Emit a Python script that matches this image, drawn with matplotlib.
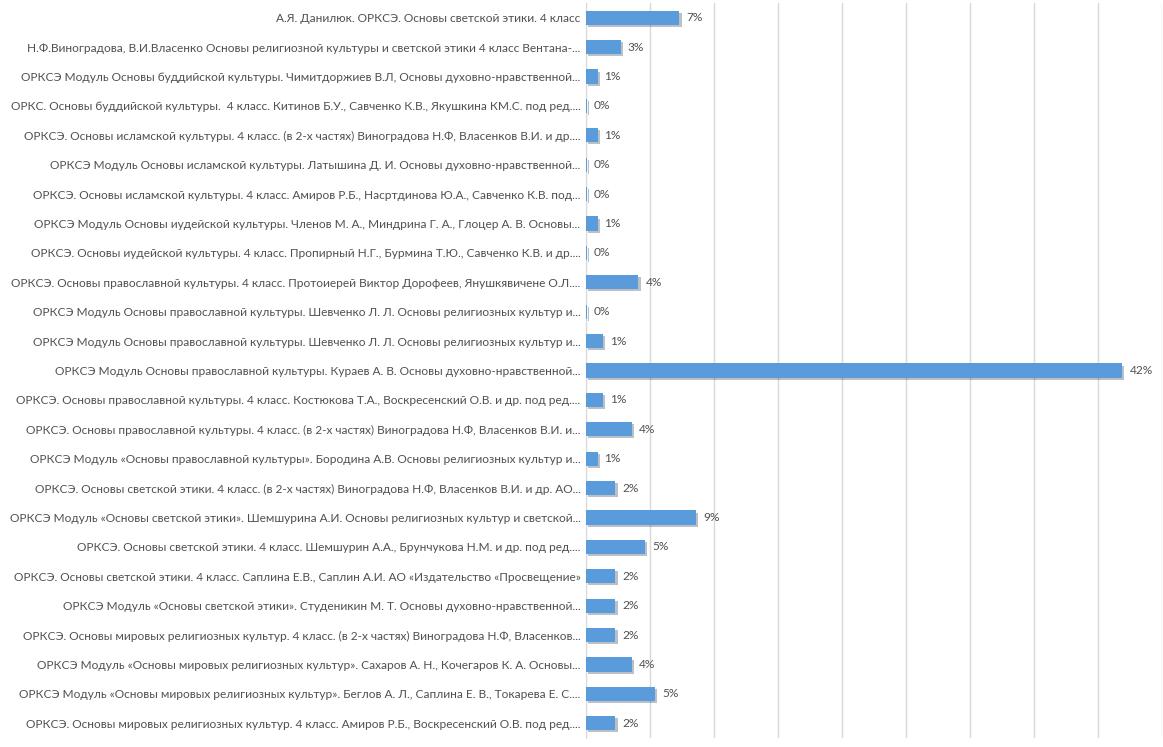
import matplotlib.pyplot as plt
import matplotlib.patheffects as pe
from matplotlib.ticker import MultipleLocator

# Textbooks, top to bottom as shown
labels = [
    "А.Я. Данилюк. ОРКСЭ. Основы светской этики. 4 класс",
    "Н.Ф.Виноградова, В.И.Власенко Основы религиозной культуры и светской этики 4 класс Вентана-...",
    "ОРКСЭ Модуль Основы буддийской культуры. Чимитдоржиев В.Л, Основы духовно-нравственной...",
    "ОРКС. Основы буддийской культуры.  4 класс. Китинов Б.У., Савченко К.В., Якушкина КМ.С. под ред....",
    "ОРКСЭ. Основы исламской культуры. 4 класс. (в 2-х частях) Виноградова Н.Ф, Власенков В.И. и др....",
    "ОРКСЭ Модуль Основы исламской культуры. Латышина Д. И. Основы духовно-нравственной...",
    "ОРКСЭ. Основы исламской культуры. 4 класс. Амиров Р.Б., Насртдинова Ю.А., Савченко К.В. под...",
    "ОРКСЭ Модуль Основы иудейской культуры. Членов М. А., Миндрина Г. А., Глоцер А. В. Основы...",
    "ОРКСЭ. Основы иудейской культуры. 4 класс. Пропирный Н.Г., Бурмина Т.Ю., Савченко К.В. и др....",
    "ОРКСЭ. Основы православной культуры. 4 класс. Протоиерей Виктор Дорофеев, Янушкявичене О.Л....",
    "ОРКСЭ Модуль Основы православной культуры. Шевченко Л. Л. Основы религиозных культур и...",
    "ОРКСЭ Модуль Основы православной культуры. Шевченко Л. Л. Основы религиозных культур и...",
    "ОРКСЭ Модуль Основы православной культуры. Кураев А. В. Основы духовно-нравственной...",
    "ОРКСЭ. Основы православной культуры. 4 класс. Костюкова Т.А., Воскресенский О.В. и др. под ред....",
    "ОРКСЭ. Основы православной культуры. 4 класс. (в 2-х частях) Виноградова Н.Ф, Власенков В.И. и...",
    "ОРКСЭ Модуль «Основы православной культуры». Бородина А.В. Основы религиозных культур и...",
    "ОРКСЭ. Основы светской этики. 4 класс. (в 2-х частях) Виноградова Н.Ф, Власенков В.И. и др. АО...",
    "ОРКСЭ Модуль «Основы светской этики». Шемшурина А.И. Основы религиозных культур и светской...",
    "ОРКСЭ. Основы светской этики. 4 класс. Шемшурин А.А., Брунчукова Н.М. и др. под ред....",
    "ОРКСЭ. Основы светской этики. 4 класс. Саплина Е.В., Саплин А.И. АО «Издательство «Просвещение»",
    "ОРКСЭ Модуль «Основы светской этики». Студеникин М. Т. Основы духовно-нравственной...",
    "ОРКСЭ. Основы мировых религиозных культур. 4 класс. (в 2-х частях) Виноградова Н.Ф, Власенков...",
    "ОРКСЭ Модуль «Основы мировых религиозных культур». Сахаров А. Н., Кочегаров К. А. Основы...",
    "ОРКСЭ Модуль «Основы мировых религиозных культур». Беглов А. Л., Саплина Е. В., Токарева Е. С....",
    "ОРКСЭ. Основы мировых религиозных культур. 4 класс. Амиров Р.Б., Воскресенский О.В. под ред....",
]

# share of answers, percent
shares = [7.3, 2.7, 0.9, 0.05, 0.9, 0.05, 0.05, 0.9, 0.05, 4.1, 0.05, 1.3, 41.9,
          1.3, 3.6, 0.9, 2.3, 8.6, 4.6, 2.3, 2.3, 2.3, 3.6, 5.4, 2.3]

fig = plt.figure(figsize=(11.63, 7.47), dpi=100)
ax = fig.add_axes([586 / 1163, 9 / 747, 576 / 1163, 735 / 747])

y = list(range(len(labels)))
bars = ax.barh(y, shares, height=0.48, color="#5A9BDB", zorder=3)
for b in bars:
    b.set_path_effects([pe.SimplePatchShadow(offset=(1.5, -1.5), alpha=0.3), pe.Normal()])

for yi, v in zip(y, shares):
    ax.text(v + 0.55, yi, f"{round(v):.0f}%", va="center", ha="left",
            fontsize=8.6, color="#505050", family="Lato")

ax.set_xlim(0, 45)
ax.set_ylim(len(labels) - 0.5, -0.5)
ax.xaxis.set_major_locator(MultipleLocator(5))
ax.grid(axis="x", color="#D9D9D9", linewidth=1, zorder=0)
ax.set_xticklabels([])
ax.tick_params(axis="x", length=0)
ax.tick_params(axis="y", length=0, pad=4)
ax.set_yticks(y)
ax.set_yticklabels(labels, fontsize=8.6, color="#505050", family="Lato")

for s in ["top", "right", "bottom"]:
    ax.spines[s].set_visible(False)
ax.spines["left"].set_color("#D9D9D9")

fig.savefig("out.png", dpi=100)
